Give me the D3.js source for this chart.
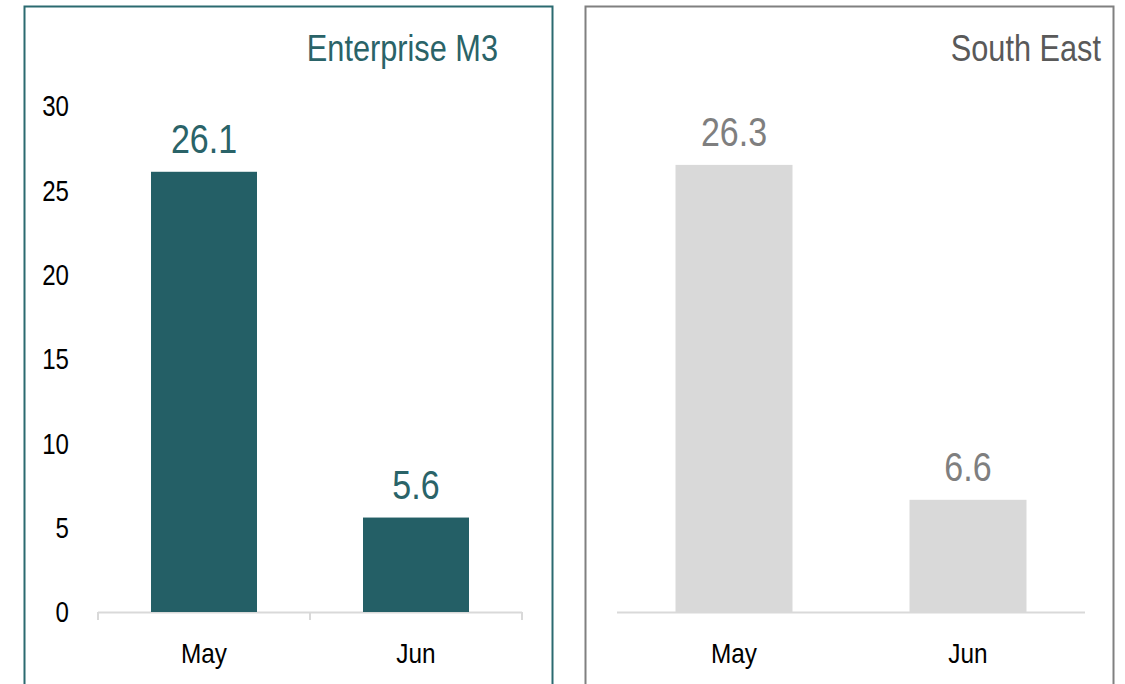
<!DOCTYPE html>
<html>
<head>
<meta charset="utf-8">
<script src="https://cdn.jsdelivr.net/npm/d3@7"></script>
<style>
  body { margin: 0; background: #fff; }
  text { font-family: "Liberation Sans Narrow", "Arial Narrow", "Liberation Sans", Arial, sans-serif; }
</style>
</head>
<body>
<div id="chart"></div>
<script>
// data
var months = ["May", "Jun"];
var enterpriseVals = [26.1, 5.6];
var southEastVals = [26.3, 6.6];
var yTicks = [0, 5, 10, 15, 20, 25, 30];

var width = 1125, height = 684;
var narrow = 0.83; // no narrow font installed, so squeeze the regular one

var svg = d3.select("#chart").append("svg")
    .attr("width", width)
    .attr("height", height);

// place squeezed text
function tpos(x, y, s) {
  return "translate(" + x + "," + y + ") scale(" + (s || narrow) + ",1)";
}

// panel frames (bottom edge runs off the picture)
svg.append("rect")
    .attr("x", 24.5).attr("y", 6.5)
    .attr("width", 528).attr("height", 700)
    .attr("fill", "none").attr("stroke", "#2b6a70").attr("stroke-width", 2);
svg.append("rect")
    .attr("x", 585.5).attr("y", 6.5)
    .attr("width", 528).attr("height", 700)
    .attr("fill", "none").attr("stroke", "#808080").attr("stroke-width", 2);

function panel(opts) {
  var g = svg.append("g");
  var x = d3.scaleBand()
      .domain(months)
      .range([opts.x0, opts.x1])
      .paddingInner(0.5).paddingOuter(0.25);
  var y = d3.scaleLinear()
      .domain([0, 30])
      .range([612, opts.yTop]);

  // baseline
  g.append("line")
      .attr("x1", opts.x0).attr("x2", opts.x1)
      .attr("y1", y(0) + 0.5).attr("y2", y(0) + 0.5)
      .attr("stroke", "#d9d9d9").attr("stroke-width", 2);

  if (opts.ticks) {
    var bounds = [opts.x0, (opts.x0 + opts.x1) / 2, opts.x1];
    g.selectAll(".tk").data(bounds).enter().append("line")
        .attr("x1", function(d) { return d; }).attr("x2", function(d) { return d; })
        .attr("y1", y(0)).attr("y2", y(0) + 8)
        .attr("stroke", "#d9d9d9").attr("stroke-width", 2);
  }

  g.selectAll(".bar").data(opts.values).enter().append("rect")
      .attr("x", function(d, i) { return x(months[i]); })
      .attr("y", function(d) { return y(d); })
      .attr("width", x.bandwidth())
      .attr("height", function(d) { return y(0) - y(d); })
      .attr("fill", opts.barColor);

  g.selectAll(".val").data(opts.values).enter().append("text")
      .attr("transform", function(d, i) { return tpos(x(months[i]) + x.bandwidth() / 2, y(d) - 19); })
      .attr("text-anchor", "middle")
      .attr("font-size", 41)
      .attr("fill", opts.labelColor)
      .text(function(d) { return d.toFixed(1); });

  g.selectAll(".cat").data(months).enter().append("text")
      .attr("transform", function(d) { return tpos(x(d) + x.bandwidth() / 2, 663, 0.87); })
      .attr("text-anchor", "middle")
      .attr("font-size", 28)
      .attr("fill", "#000")
      .text(function(d) { return d; });

  g.append("text")
      .attr("transform", tpos(opts.titleX, 61))
      .attr("text-anchor", "end")
      .attr("font-size", 37)
      .attr("fill", opts.titleColor)
      .text(opts.title);

  return y;
}

var yLeft = panel({
  x0: 98, x1: 522, yTop: 106,
  values: enterpriseVals, barColor: "#245f66", labelColor: "#2a6368",
  title: "Enterprise M3", titleX: 498, titleColor: "#2a6368", ticks: true
});

panel({
  x0: 617, x1: 1085, yTop: 102,
  values: southEastVals, barColor: "#d9d9d9", labelColor: "#7f7f7f",
  title: "South East", titleX: 1101, titleColor: "#595959", ticks: false
});

// y axis labels, left panel only
svg.append("g").selectAll("text").data(yTicks).enter().append("text")
    .attr("transform", function(d) { return tpos(69, yLeft(d)); })
    .attr("dy", "0.36em")
    .attr("text-anchor", "end")
    .attr("font-size", 29)
    .attr("fill", "#000")
    .text(function(d) { return d; });
</script>
</body>
</html>
